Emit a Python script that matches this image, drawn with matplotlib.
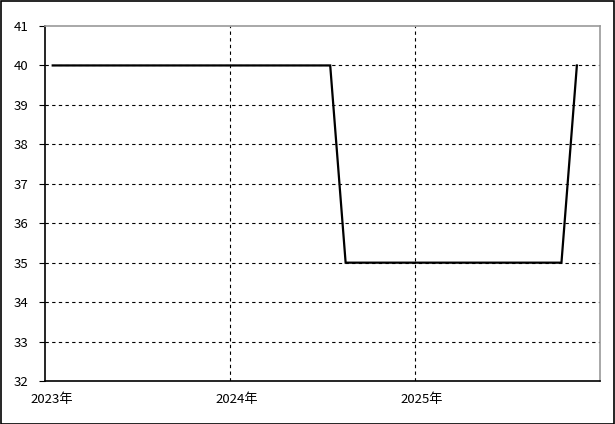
import numpy as np
import matplotlib
matplotlib.use("Agg")
import matplotlib.pyplot as plt
import matplotlib.transforms as mtrans
from matplotlib.patches import Rectangle

plt.rcParams['font.family'] = ['Noto Sans CJK JP', 'DejaVu Sans']

# monthly values, Jan 2023 .. Nov 2025
months = [f"{y}-{m:02d}" for y in (2023, 2024, 2025) for m in range(1, 13)][:35]
values = [40] * 19 + [35] * 15 + [40]
year_labels = ["2023年", "2024年", "2025年"]

fig = plt.figure(figsize=(6.15, 4.24), dpi=100)
ax = fig.add_axes([45 / 615, 1 - 381 / 424, 555 / 615, 355 / 424])

x = np.arange(len(months)) + 0.5
ax.plot(x, values, color="black", lw=1.6, solid_joinstyle="miter")

ax.set_xlim(0, 36)
ax.set_ylim(32, 41)
ax.set_yticks(range(32, 42))
ax.set_xticks([0, 12, 24])
ax.set_xticklabels(year_labels)
ax.tick_params(axis="y", length=4, width=0.8, pad=8, labelsize=9.5)
ax.tick_params(axis="x", length=0, pad=9, labelsize=9.5)
off = mtrans.ScaledTranslation(7 / 100, 0, fig.dpi_scale_trans)
for lab in ax.get_xticklabels():
    lab.set_transform(lab.get_transform() + off)

for v in range(33, 41):
    ax.axhline(v, color="black", lw=0.8, ls=(0, (3, 3)), zorder=0)
for v in (12, 24):
    ax.axvline(v, color="black", lw=0.8, ls=(0, (3, 3)), zorder=0)

for s in ("left", "bottom"):
    ax.spines[s].set_color("black")
    ax.spines[s].set_linewidth(1.2)
for s in ("top", "right"):
    ax.spines[s].set_color("#999999")
    ax.spines[s].set_linewidth(1.2)

fig.patches.append(Rectangle((0.5 / 615, 0.5 / 424), 613.5 / 615, 422.5 / 424,
                             transform=fig.transFigure, fill=False,
                             edgecolor="black", lw=1.2))

fig.savefig("out.png", dpi=100)
